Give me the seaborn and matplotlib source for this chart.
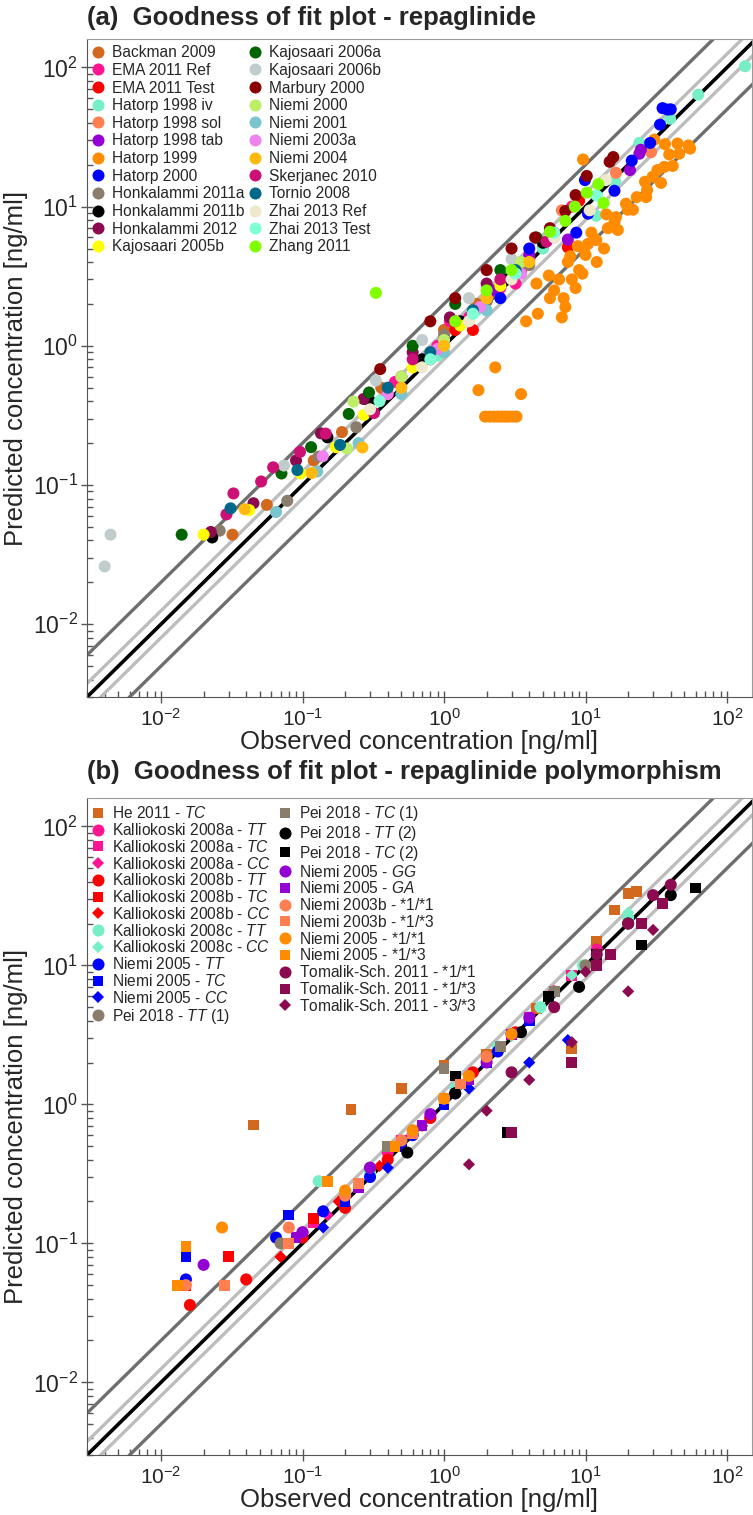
import numpy as np
import pandas as pd
import matplotlib
matplotlib.use('Agg')
import matplotlib.pyplot as plt
import seaborn as sns

sns.set_style('ticks')
plt.rcParams['font.family'] = ['Liberation Sans', 'DejaVu Sans']
plt.rcParams['mathtext.fontset'] = 'custom'
plt.rcParams['mathtext.rm'] = 'Liberation Sans'
plt.rcParams['mathtext.it'] = 'Liberation Sans:italic'
plt.rcParams['mathtext.bf'] = 'Liberation Sans:bold'

# ---------------- panel (a): studies, colours, observed / predicted [ng/ml]
studies_a = ['Backman 2009', 'EMA 2011 Ref', 'EMA 2011 Test', 'Hatorp 1998 iv',
             'Hatorp 1998 sol', 'Hatorp 1998 tab', 'Hatorp 1999', 'Hatorp 2000',
             'Honkalammi 2011a', 'Honkalammi 2011b', 'Honkalammi 2012', 'Kajosaari 2005b',
             'Kajosaari 2006a', 'Kajosaari 2006b', 'Marbury 2000', 'Niemi 2000',
             'Niemi 2001', 'Niemi 2003a', 'Niemi 2004', 'Skerjanec 2010',
             'Tornio 2008', 'Zhai 2013 Ref', 'Zhai 2013 Test', 'Zhang 2011']
colors_a = ['#D2691E', '#FF1493', '#FF0000', '#76EEC6', '#FF7F50', '#9400D3', '#FF8C00',
            '#0000FF', '#8B7D6B', '#000000', '#8B0A50', '#FFFF00', '#006400', '#C1CDCD',
            '#8B0000', '#BCEE68', '#7AC5CD', '#EE82EE', '#FFB90F', '#CD1076', '#00688B',
            '#EEE8CD', '#7FFFD4', '#7FFF00']

backman_obs = [0.032, 0.056, 0.12, 0.19, 0.36, 0.62, 1.0, 1.7, 2.2, 3.0]
backman_pred = [0.044, 0.072, 0.15, 0.24, 0.5, 0.72, 1.3, 2.0, 2.4, 3.2]
ema_ref_obs = [0.45, 0.9, 1.5, 2.5, 4.0, 6.0, 8.0, 3.2, 1.1]
ema_ref_pred = [0.55, 1.0, 1.6, 2.6, 4.2, 6.5, 10.0, 2.8, 1.5]
ema_test_obs = [0.4, 0.8, 1.2, 2.0, 3.5, 5.0, 7.5, 9.0, 1.6]
ema_test_pred = [0.45, 0.8, 1.3, 2.1, 3.4, 5.1, 5.1, 11.0, 1.3]
hat_iv_obs = [134, 62.5, 39.6, 24, 16.2, 11.9, 5.0, 3.0, 1.7, 0.9]
hat_iv_pred = [102, 63.7, 42.8, 28.7, 15.2, 8.6, 5.0, 3.2, 1.8, 0.85]
hat_sol_obs = [29, 16.4, 6.8, 3.5, 2.0, 1.0, 0.5]
hat_sol_pred = [24.6, 17.5, 9.4, 4.0, 2.2, 1.1, 0.6]
hat_tab_obs = [24.6, 24, 20.6, 7.5, 4.0, 2.2, 1.0]
hat_tab_pred = [25.6, 24, 18.3, 5.8, 4.5, 2.5, 1.1]
hat99_obs = [1.95, 2.1, 2.25, 2.4, 2.55, 2.7, 2.85, 3.05, 3.25, 1.75, 2.3, 3.5,
             6.8, 7.0, 6.0, 8.0, 5.5, 9.0, 4.5, 7.5, 10.0, 8.8, 12.0, 9.5, 7.8, 6.5,
             5.6, 4.6, 8.5, 13.5, 7.2, 3.8, 11.0, 14.0,
             36.4, 44.6, 53.4, 54.8, 39, 45.9, 36, 41.3, 32.2, 29.8, 34.1, 26.3, 27.2,
             26.8, 23, 19.3, 19.9, 21.6, 16.4, 16, 14.4, 16.9, 11.9, 10.4, 9.8, 30.6, 9.6]
hat99_pred = [0.31, 0.31, 0.31, 0.31, 0.31, 0.31, 0.31, 0.31, 0.31, 0.48, 0.7, 0.45,
              1.6, 2.2, 2.5, 3.0, 3.2, 3.5, 2.8, 4.0, 4.5, 5.2, 4.0, 3.3, 4.4, 3.0,
              2.2, 1.7, 2.6, 5.0, 1.9, 1.5, 6.5, 8.8,
              28.1, 28.4, 27.5, 26.1, 23.7, 24, 19.3, 19.6, 18.3, 16.4, 14.8, 15.1, 13.1,
              11.7, 11.7, 10.5, 9.5, 9.5, 8.4, 7.7, 7.0, 6.8, 5.75, 5.4, 5.0, 30.3, 21.8]
hat2000_obs = [35, 38, 40, 33.6, 28.6, 21.2, 16, 9.9, 10.4, 8.6, 4.0, 2.5]
hat2000_pred = [51, 49.8, 50, 38.8, 28.7, 21.4, 13, 15.5, 8.9, 6.5, 5.0, 2.2]
honk11a_obs = [0.026, 0.078, 0.13, 0.24, 0.5, 1.0, 2.0, 4.0]
honk11a_pred = [0.047, 0.077, 0.16, 0.26, 0.6, 1.2, 2.1, 3.8]
honk11b_obs = [0.023, 0.15, 0.3, 0.7, 1.3, 2.8, 5.0]
honk11b_pred = [0.042, 0.22, 0.4, 0.8, 1.5, 3.0, 5.5]
honk12_obs = [0.0225, 0.045, 0.09, 0.135, 0.27, 0.6, 1.1, 2.0]
honk12_pred = [0.046, 0.074, 0.15, 0.235, 0.415, 0.9, 1.6, 2.8]
kaj05b_obs = [0.02, 0.042, 0.097, 0.172, 0.272, 0.6, 1.3, 2.5]
kaj05b_pred = [0.044, 0.066, 0.121, 0.187, 0.319, 0.7, 1.4, 2.7]
kaj06a_obs = [0.014, 0.071, 0.115, 0.212, 0.295, 0.6, 1.2, 2.5, 4.5]
kaj06a_pred = [0.044, 0.121, 0.187, 0.324, 0.462, 1.0, 2.0, 3.5, 6.0]
kaj06b_obs = [0.004, 0.0044, 0.074, 0.33, 0.7, 1.5, 3.0]
kaj06b_pred = [0.026, 0.044, 0.138, 0.564, 1.1, 2.2, 4.2]
marbury_obs = [0.354, 0.8, 1.2, 2.0, 3.0, 4.4, 5.6, 7.2, 8.5, 10.2, 14.8, 15.7]
marbury_pred = [0.68, 1.5, 2.2, 3.5, 5.0, 6.0, 7.0, 9.3, 12.1, 16.6, 21, 22.7]
niemi00_obs = [0.206, 0.229, 0.5, 1.0, 2.0, 3.5]
niemi00_pred = [0.183, 0.397, 0.6, 1.1, 2.2, 4.0]
niemi01_obs = [0.065, 0.127, 0.249, 0.5, 1.0, 2.0]
niemi01_pred = [0.064, 0.125, 0.2, 0.45, 0.9, 1.8]
niemi03a_obs = [0.139, 0.4, 0.9, 1.8, 3.5, 6.0]
niemi03a_pred = [0.161, 0.45, 0.95, 1.9, 3.3, 6.0]
niemi04_obs = [0.039, 0.116, 0.265, 0.5, 1.0, 2.0, 4.0]
niemi04_pred = [0.067, 0.122, 0.186, 0.5, 1.0, 2.2, 4.0]
skerj_obs = [0.029, 0.0325, 0.051, 0.062, 0.096, 0.146, 0.32, 0.6, 1.2, 2.5, 5.3]
skerj_pred = [0.0615, 0.087, 0.106, 0.134, 0.173, 0.234, 0.329, 0.8, 1.5, 3.0, 5.6]
tornio_obs = [0.031, 0.092, 0.184, 0.4, 0.8, 1.6, 3.2]
tornio_pred = [0.068, 0.128, 0.194, 0.5, 0.9, 1.8, 3.5]
zhai_ref_obs = [0.3, 0.7, 1.5, 3.0, 6.0, 10.7, 13.9]
zhai_ref_pred = [0.35, 0.7, 1.5, 3.0, 6.0, 9.4, 15.5]
zhai_test_obs = [0.35, 0.8, 1.6, 3.2, 6.0, 12.0]
zhai_test_pred = [0.4, 0.8, 1.7, 3.3, 6.5, 12.0]
zhang_obs = [0.33, 1.2, 2.0, 3.0, 5.6, 7.2, 8.4, 10.2, 12.3, 13.4]
zhang_pred = [2.4, 1.5, 2.5, 3.5, 6.6, 7.9, 10.0, 12.6, 14.5, 10.6]

obs_a = [backman_obs, ema_ref_obs, ema_test_obs, hat_iv_obs, hat_sol_obs, hat_tab_obs,
         hat99_obs, hat2000_obs, honk11a_obs, honk11b_obs, honk12_obs, kaj05b_obs,
         kaj06a_obs, kaj06b_obs, marbury_obs, niemi00_obs, niemi01_obs, niemi03a_obs,
         niemi04_obs, skerj_obs, tornio_obs, zhai_ref_obs, zhai_test_obs, zhang_obs]
pred_a = [backman_pred, ema_ref_pred, ema_test_pred, hat_iv_pred, hat_sol_pred, hat_tab_pred,
          hat99_pred, hat2000_pred, honk11a_pred, honk11b_pred, honk12_pred, kaj05b_pred,
          kaj06a_pred, kaj06b_pred, marbury_pred, niemi00_pred, niemi01_pred, niemi03a_pred,
          niemi04_pred, skerj_pred, tornio_pred, zhai_ref_pred, zhai_test_pred, zhang_pred]

# ---------------- panel (b): polymorphism studies
studies_b = ['He 2011 - $\\mathit{TC}$',
             'Kalliokoski 2008a - $\\mathit{TT}$', 'Kalliokoski 2008a - $\\mathit{TC}$',
             'Kalliokoski 2008a - $\\mathit{CC}$',
             'Kalliokoski 2008b - $\\mathit{TT}$', 'Kalliokoski 2008b - $\\mathit{TC}$',
             'Kalliokoski 2008b - $\\mathit{CC}$',
             'Kalliokoski 2008c - $\\mathit{TT}$', 'Kalliokoski 2008c - $\\mathit{CC}$',
             'Niemi 2005 - $\\mathit{TT}$', 'Niemi 2005 - $\\mathit{TC}$',
             'Niemi 2005 - $\\mathit{CC}$', 'Pei 2018 - $\\mathit{TT}$ (1)',
             'Pei 2018 - $\\mathit{TC}$ (1)', 'Pei 2018 - $\\mathit{TT}$ (2)',
             'Pei 2018 - $\\mathit{TC}$ (2)', 'Niemi 2005 - $\\mathit{GG}$',
             'Niemi 2005 - $\\mathit{GA}$', 'Niemi 2003b - $\\mathit{{*}1/{*}1}$',
             'Niemi 2003b - $\\mathit{{*}1/{*}3}$', 'Niemi 2005 - $\\mathit{{*}1/{*}1}$',
             'Niemi 2005 - $\\mathit{{*}1/{*}3}$', 'Tomalik-Sch. 2011 - $\\mathit{{*}1/{*}1}$',
             'Tomalik-Sch. 2011 - $\\mathit{{*}1/{*}3}$', 'Tomalik-Sch. 2011 - $\\mathit{{*}3/{*}3}$']
colors_b = ['#D2691E', '#FF1493', '#FF1493', '#FF1493', '#FF0000', '#FF0000', '#FF0000',
            '#76EEC6', '#76EEC6', '#0000FF', '#0000FF', '#0000FF', '#8B7D6B', '#8B7D6B',
            '#000000', '#000000', '#9400D3', '#9400D3', '#FF7F50', '#FF7F50', '#FF8C00',
            '#FF8C00', '#8B0A50', '#8B0A50', '#8B0A50']
markers_b = ['s', 'o', 's', 'D', 'o', 's', 'D', 'o', 'D', 'o', 's', 'D', 'o', 's', 'o', 's',
             'o', 's', 'o', 's', 'o', 's', 'o', 's', 'D']

he_tc_obs = [0.045, 0.22, 0.5, 1.0, 2.0, 4.5, 8.0, 12, 16, 20, 23]
he_tc_pred = [0.71, 0.92, 1.3, 1.9, 2.3, 4.9, 2.5, 15, 25, 33, 34]
k08a_tt_obs = [0.1, 0.2, 0.4, 0.8, 1.5, 3.0, 6.0, 12]
k08a_tt_pred = [0.12, 0.22, 0.45, 0.8, 1.6, 3.2, 6.5, 13]
k08a_tc_obs = [0.12, 0.25, 0.5, 1.0, 2.0, 4.0, 8.0]
k08a_tc_pred = [0.14, 0.27, 0.55, 1.1, 2.1, 4.2, 8.5]
k08a_cc_obs = [0.07, 0.15, 0.3, 0.6, 1.2, 2.4]
k08a_cc_pred = [0.08, 0.16, 0.3, 0.62, 1.2, 2.5]
k08b_tt_obs = [0.016, 0.04, 0.1, 0.2, 0.4, 0.8, 1.6, 3.2]
k08b_tt_pred = [0.036, 0.055, 0.11, 0.18, 0.4, 0.8, 1.7, 3.3]
k08b_tc_obs = [0.015, 0.03, 0.12, 0.25, 0.5, 1.0, 2.0]
k08b_tc_pred = [0.05, 0.08, 0.15, 0.27, 0.5, 1.0, 2.1]
k08b_cc_obs = [0.07, 0.18, 0.35, 0.7, 1.4]
k08b_cc_pred = [0.08, 0.2, 0.36, 0.7, 1.4]
k08c_tt_obs = [0.13, 0.3, 0.6, 1.2, 2.4, 4.8, 9.6, 20]
k08c_tt_pred = [0.28, 0.32, 0.65, 1.3, 2.6, 5.0, 10, 22]
k08c_cc_obs = [0.3, 1.0, 3.0, 8.0, 20]
k08c_cc_pred = [0.33, 1.1, 3.1, 8.5, 24]
n05_tt_obs = [0.015, 0.065, 0.14, 0.3, 0.6, 1.2, 2.4]
n05_tt_pred = [0.055, 0.11, 0.17, 0.3, 0.6, 1.2, 2.4]
n05_tc_obs = [0.015, 0.08, 0.2, 0.5, 1.0, 2.0, 4.0]
n05_tc_pred = [0.08, 0.16, 0.2, 0.5, 1.0, 2.0, 4.0]
n05_cc_obs = [0.14, 0.4, 1.5, 4.0, 7.5]
n05_cc_pred = [0.13, 0.35, 1.3, 2.0, 2.9]
pei_tt1_obs = [0.07, 0.3, 1.0, 3.0, 10]
pei_tt1_pred = [0.1, 0.35, 1.1, 3.2, 10]
pei_tc1_obs = [0.4, 1.0, 2.5, 6.0]
pei_tc1_pred = [0.5, 1.8, 2.6, 6.5]
pei_tt2_obs = [0.55, 1.2, 3.5, 9.0, 20, 40]
pei_tt2_pred = [0.45, 1.2, 3.3, 7.0, 20, 32]
pei_tc2_obs = [1.2, 2.8, 5.5, 12, 25, 60]
pei_tc2_pred = [1.6, 0.63, 6.0, 12, 14, 36]
n05_gg_obs = [0.02, 0.1, 0.3, 0.8, 2.0, 4.0]
n05_gg_pred = [0.07, 0.12, 0.35, 0.85, 2.0, 4.2]
n05_ga_obs = [0.09, 0.25, 0.7, 1.5, 3.0]
n05_ga_pred = [0.11, 0.25, 0.7, 1.5, 3.2]
n03b_11_obs = [0.015, 0.08, 0.2, 0.5, 1.0, 2.0]
n03b_11_pred = [0.05, 0.13, 0.22, 0.55, 1.1, 2.2]
n03b_13_obs = [0.028, 0.08, 0.25, 0.6, 1.3]
n03b_13_pred = [0.05, 0.1, 0.27, 0.62, 1.4]
n05_11_obs = [0.027, 0.2, 0.6, 1.5, 3.0]
n05_11_pred = [0.13, 0.24, 0.65, 1.6, 3.2]
n05_13_obs = [0.013, 0.015, 0.15, 0.45, 1.0]
n05_13_pred = [0.05, 0.095, 0.28, 0.5, 1.1]
tom_11_obs = [3.0, 6.0, 12, 20, 30, 40]
tom_11_pred = [1.7, 5.0, 12, 20, 32, 38]
tom_13_obs = [3.0, 8.0, 12, 15, 25, 35]
tom_13_pred = [0.63, 2.0, 10, 12, 20, 28]
tom_33_obs = [1.5, 2.0, 4.0, 8.0, 10, 20, 30]
tom_33_pred = [0.37, 0.9, 1.5, 2.8, 9.0, 6.5, 18]

obs_b = [he_tc_obs, k08a_tt_obs, k08a_tc_obs, k08a_cc_obs, k08b_tt_obs, k08b_tc_obs,
         k08b_cc_obs, k08c_tt_obs, k08c_cc_obs, n05_tt_obs, n05_tc_obs, n05_cc_obs,
         pei_tt1_obs, pei_tc1_obs, pei_tt2_obs, pei_tc2_obs, n05_gg_obs, n05_ga_obs,
         n03b_11_obs, n03b_13_obs, n05_11_obs, n05_13_obs, tom_11_obs, tom_13_obs, tom_33_obs]
pred_b = [he_tc_pred, k08a_tt_pred, k08a_tc_pred, k08a_cc_pred, k08b_tt_pred, k08b_tc_pred,
          k08b_cc_pred, k08c_tt_pred, k08c_cc_pred, n05_tt_pred, n05_tc_pred, n05_cc_pred,
          pei_tt1_pred, pei_tc1_pred, pei_tt2_pred, pei_tc2_pred, n05_gg_pred, n05_ga_pred,
          n03b_11_pred, n03b_13_pred, n05_11_pred, n05_13_pred, tom_11_pred, tom_13_pred,
          tom_33_pred]

fold_lines = [(0.5, '#6E6E6E'), (2.0, '#6E6E6E'), (0.8, '#BDBDBD'), (1.25, '#BDBDBD'),
              (1.0, '#000000')]
lims = (0.003, 160)
marker_area = {'o': 75, 's': 60, 'D': 38}


def make_frame(names, obs, pred):
    parts = [pd.DataFrame({'study': n, 'obs': o, 'pred': p}) for n, o, p in zip(names, obs, pred)]
    return pd.concat(parts, ignore_index=True)


df_a = make_frame(studies_a, obs_a, pred_a)
df_b = make_frame(studies_b, obs_b, pred_b)

fig = plt.figure(figsize=(7.53, 15.15), dpi=100)
W, H = 753, 1515
ax_a = fig.add_axes([87 / W, 1 - 697 / H, 665 / W, 658 / H])
ax_b = fig.add_axes([87 / W, 1 - 1455 / H, 665 / W, 657 / H])


def draw_panel(ax, df, names, colors, markers, leg_kw):
    xs = np.array(lims)
    for f, c in fold_lines:
        ax.plot(xs, xs * f, color=c, lw=2.4 if f != 1 else 2.6, zorder=1, solid_capstyle='butt')
    kw = dict(data=df, x='obs', y='pred', hue='study', hue_order=names,
              palette=dict(zip(names, colors)), linewidth=0, ax=ax, zorder=3)
    if markers is None:
        kw['s'] = 75
    else:
        kw.update(style='study', style_order=names, markers=dict(zip(names, markers)),
                  size='study', size_order=names,
                  sizes={n: marker_area[m] for n, m in zip(names, markers)})
    sns.scatterplot(**kw)
    ax.set_xscale('log')
    ax.set_yscale('log')
    ax.set_xlim(lims[0], 150)
    ax.set_ylim(lims)
    ax.set_xlabel('Observed concentration [ng/ml]', fontsize=18.5)
    ax.set_ylabel('Predicted concentration [ng/ml]', fontsize=18.5)
    ax.xaxis.set_label_coords(0.5, -0.05)
    ax.yaxis.set_label_coords(-0.088, 0.5)
    ax.tick_params(which='major', direction='inout', length=9, width=1, color='#555555')
    ax.tick_params(which='minor', direction='in', length=4, width=1, color='#555555')
    ax.tick_params(axis='x', labelsize=15, pad=3)
    ax.tick_params(axis='y', labelsize=16.5, pad=2)
    for side in ['left', 'bottom']:
        ax.spines[side].set_color('#555555')
    for side in ['top', 'right']:
        ax.spines[side].set_color('#9A9A9A')
    sns.move_legend(ax, 'upper left', bbox_to_anchor=(0.0, 1.0), ncol=2, frameon=False,
                    title=None, fontsize=11.2, handletextpad=0.62, borderaxespad=0.2,
                    borderpad=0.2, handlelength=0.6, **leg_kw)


draw_panel(ax_a, df_a, studies_a, colors_a, None,
           dict(labelspacing=0.17, columnspacing=0.35))
draw_panel(ax_b, df_b, studies_b, colors_b, markers_b,
           dict(labelspacing=0.05, columnspacing=0.6))

fig.text(87 / W, 1 - 18 / H, '(a)  Goodness of fit plot - repaglinide', fontsize=18.5,
         fontweight='bold', ha='left', va='center')
fig.text(87 / W, 1 - 772 / H, '(b)  Goodness of fit plot - repaglinide polymorphism',
         fontsize=18.5, fontweight='bold', ha='left', va='center')

fig.savefig('out.png', dpi=100)
